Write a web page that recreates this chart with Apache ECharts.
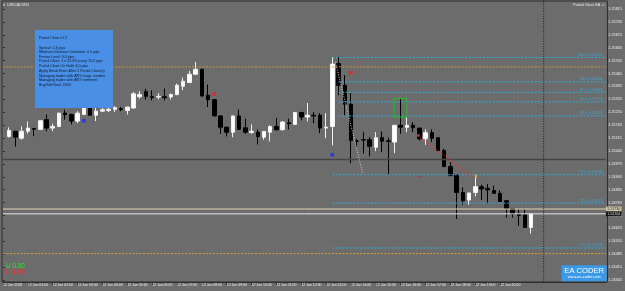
<!DOCTYPE html>
<html><head><meta charset="utf-8">
<script src="https://cdn.jsdelivr.net/npm/echarts@6/dist/echarts.min.js"></script>
<style>html,body{margin:0;padding:0;background:#6c6c6c;overflow:hidden}#c{width:625px;height:291px}</style>
</head><body><div id="c"></div>
<script>
// ---- data (USDCAD M15, 12 Jan 2018) ----
const opens = [1.25124,1.25152,1.25114,1.25152,1.25166,1.25162,1.25215,1.25169,1.25178,1.25250,1.25243,1.25207,1.25243,1.25278,1.25239,1.25261,1.25264,1.25271,1.25274,1.25265,1.25278,1.25339,1.25367,1.25339,1.25337,1.25339,1.25338,1.25351,1.25396,1.25416,1.25461,1.25488,1.25347,1.25323,1.25235,1.25174,1.25147,1.25235,1.25171,1.25145,1.25147,1.25120,1.25147,1.25178,1.25160,1.25198,1.25189,1.25254,1.25229,1.25239,1.25239,1.25169,1.25178,1.25519,1.25401,1.25298,1.25100,1.25107,1.25106,1.25065,1.25117,1.25100,1.25093,1.25184,1.25173,1.25184,1.25169,1.25111,1.25144,1.25117,1.25047,1.24960,1.24915,1.24820,1.24779,1.24820,1.24851,1.24842,1.24830,1.24815,1.24775,1.24733,1.24703,1.24699,1.24630];
const closes = [1.25156,1.25120,1.25152,1.25169,1.25163,1.25209,1.25169,1.25178,1.25250,1.25242,1.25207,1.25250,1.25278,1.25239,1.25261,1.25269,1.25271,1.25280,1.25269,1.25283,1.25355,1.25351,1.25341,1.25334,1.25341,1.25334,1.25351,1.25401,1.25423,1.25461,1.25488,1.25343,1.25323,1.25235,1.25174,1.25147,1.25235,1.25162,1.25147,1.25152,1.25124,1.25151,1.25178,1.25160,1.25202,1.25193,1.25254,1.25229,1.25239,1.25235,1.25169,1.25174,1.25516,1.25401,1.25298,1.25102,1.25098,1.25104,1.25071,1.25117,1.25098,1.25096,1.25184,1.25174,1.25184,1.25171,1.25111,1.25144,1.25114,1.25047,1.24960,1.24911,1.24820,1.24775,1.24817,1.24851,1.24839,1.24834,1.24815,1.24771,1.24733,1.24703,1.24696,1.24630,1.24703];
const lows = [1.25118,1.25069,1.25106,1.25138,1.25125,1.25160,1.25152,1.25152,1.25174,1.25215,1.25189,1.25196,1.25242,1.25237,1.25207,1.25256,1.25256,1.25256,1.25261,1.25243,1.25274,1.25329,1.25323,1.25320,1.25325,1.25320,1.25325,1.25347,1.25374,1.25415,1.25459,1.25341,1.25283,1.25233,1.25138,1.25124,1.25120,1.25160,1.25138,1.25138,1.25080,1.25106,1.25096,1.25158,1.25156,1.25162,1.25187,1.25211,1.25205,1.25196,1.25142,1.25114,1.25075,1.25347,1.25239,1.24978,1.25069,1.25031,1.25015,1.25044,1.25038,1.24917,1.25033,1.25138,1.25147,1.25147,1.25102,1.25078,1.25093,1.25046,1.24959,1.24910,1.24676,1.24753,1.24753,1.24799,1.24779,1.24757,1.24813,1.24770,1.24684,1.24684,1.24639,1.24628,1.24597];
const highs = [1.25173,1.25152,1.25178,1.25205,1.25167,1.25211,1.25243,1.25193,1.25253,1.25269,1.25247,1.25261,1.25279,1.25287,1.25278,1.25278,1.25280,1.25287,1.25283,1.25284,1.25365,1.25369,1.25382,1.25374,1.25358,1.25383,1.25356,1.25410,1.25443,1.25479,1.25528,1.25490,1.25405,1.25325,1.25239,1.25175,1.25236,1.25269,1.25220,1.25189,1.25162,1.25152,1.25184,1.25225,1.25207,1.25220,1.25256,1.25256,1.25305,1.25256,1.25250,1.25250,1.25555,1.25555,1.25456,1.25358,1.25111,1.25147,1.25120,1.25147,1.25151,1.25117,1.25185,1.25329,1.25229,1.25202,1.25170,1.25162,1.25162,1.25118,1.25057,1.24984,1.24917,1.24848,1.24819,1.24917,1.24862,1.24866,1.24857,1.24830,1.24777,1.24734,1.24730,1.24730,1.24704];
const timeLabels = ['12 Jan 2018','12 Jan 01:00','12 Jan 02:00','12 Jan 03:00','12 Jan 04:00','12 Jan 05:00','12 Jan 06:00','12 Jan 07:00','12 Jan 08:00','12 Jan 09:00','12 Jan 10:00','12 Jan 11:00','12 Jan 12:00','12 Jan 13:00','12 Jan 14:00','12 Jan 15:00','12 Jan 16:00','12 Jan 17:00','12 Jan 18:00','12 Jan 19:00','12 Jan 20:00','12 Jan 21:00'];
const priceMin = 1.24345, priceMax = 1.25815, priceStep = 0.0007;
// horizontal levels
const levelOrangeTop = 1.25501, levelDark = 1.24998, levelAsk = 1.24730, levelBid = 1.24704, levelOrangeBottom = 1.24488;
const fibValues = [1.25552, 1.25420, 1.25363, 1.25311, 1.25235];
const fibNames = ['100', '76', '61', '50', '38'];
const targetValues = [1.24916, 1.24762, 1.24519];
const targetNames = ['T1', 'T2', 'T3'];
// markers (x in bar units, y price)
const buyArrows = [[13, 1.25209], [53, 1.25024]];
const sellArrows = [[34, 1.25354], [56, 1.25470]];
const trendGray = [[53.5, 1.25526], [57.9, 1.24922]];
const trendRed = [[67.1, 1.25118], [75.6, 1.24906]];
const boxHigh = 1.25329, boxLow = 1.25229, boxFrom = 62.95, boxTo = 65.0;
const nowBar = 87;
const infoLines = ['Partial Close v1.2','','Spread: 2.4 pips','Minimum Distance Limitation: 0.0 pips','Freeze Level: 0.0 pips','Partial Close: 3 x 25.0% every 15.0 pips','Partial Close On Hold: 6.0 pips','Apply Break Even After 2 Partial Close(s)','Managing trades with ANY magic number','Managing trades with ANY comment','Buy/Sell/Total: 0/0/0'];

const NB = 98;
const cats = Array.from({length: NB}, (_, i) => String(i));
const rows = opens.map((o, i) => [i + 1, o, closes[i], lows[i], highs[i]]);
const tickVals = timeLabels.map((_, k) => k * 4);
const F = 'Liberation Sans, Arial, sans-serif';

function hLine(v, color, type, width, from, to) {
  return {type: 'line', xAxisIndex: 1, yAxisIndex: 0, data: [[from, v], [to, v]], showSymbol: false, symbol: 'none', silent: true, clip: false, z: 3,
    lineStyle: {color: color, type: type, width: width}, animation: false};
}
const series = [];
series.push({type: 'candlestick', xAxisIndex: 0, yAxisIndex: 0, data: rows, encode: {x: 0, y: [1, 2, 3, 4]}, barWidth: 4, z: 2, animation: false,
  itemStyle: {color: '#ffffff', color0: '#000000', borderColor: '#f2f2f2', borderColor0: '#000000', borderWidth: 1, borderColorDoji: '#d8d8d8'}});
series.push(hLine(levelOrangeTop, '#c4974a', [2, 1.5], 1, 0, 97));
series.push(hLine(levelDark, '#454545', 'solid', 1.5, 0, 97));
series.push(hLine(levelAsk, '#e4d6b2', 'solid', 1, 0, 97));
series.push(hLine(levelBid, '#e6e6e6', 'solid', 1, 0, 97));
series.push(hLine(levelOrangeBottom, '#e0a030', [2, 1.5], 1, 0, 97));
fibValues.forEach((v, i) => series.push(hLine(v, '#2aaee0', [2, 1.5], 1, i === 0 ? 53 : 54, 97)));
targetValues.forEach((v) => series.push(hLine(v, '#2aaee0', [2, 1.5], 1, 53, 97)));
// labels of the levels
const lvlLabels = fibValues.map((v, i) => ({v: v, t: fibNames[i] + ' = (' + v.toFixed(5) + ')'}))
  .concat(targetValues.map((v, i) => ({v: v, t: targetNames[i] + ' = (' + v.toFixed(5) + ')'})));
series.push({type: 'scatter', xAxisIndex: 1, yAxisIndex: 0, symbolSize: 0, clip: false, silent: true, z: 4, animation: false,
  data: lvlLabels.map(o => ({value: [96.6, o.v], label: {formatter: o.t}})),
  label: {show: true, position: 'left', distance: 0, offset: [0, -2.6], color: '#38b8ee', fontSize: 3.6, fontFamily: F}});
series.push({type: 'line', xAxisIndex: 1, data: trendGray, showSymbol: false, clip: false, z: 4, animation: false, lineStyle: {color: '#cfcfcf', type: [1, 1.5], width: 1}});
series.push({type: 'line', xAxisIndex: 1, data: trendRed, showSymbol: false, clip: false, z: 4, animation: false, lineStyle: {color: '#d83838', type: [1, 1.5], width: 1}});
series.push({type: 'line', xAxisIndex: 1, data: [[boxFrom, boxHigh], [boxTo, boxHigh], [boxTo, boxLow], [boxFrom, boxLow], [boxFrom, boxHigh]], showSymbol: false, clip: false, z: 4, animation: false, lineStyle: {color: '#20c020', width: 1}});
series.push({type: 'line', xAxisIndex: 1, data: [[nowBar, priceMax + 0.00044], [nowBar, priceMin - 0.00011]], showSymbol: false, clip: false, z: 4, animation: false, lineStyle: {color: '#1c1c1c', type: [1, 1.5], width: 1}});
series.push({type: 'scatter', xAxisIndex: 1, data: buyArrows, symbol: 'rect', symbolSize: 3.5, itemStyle: {color: '#1430ff'}, z: 5, animation: false});
series.push({type: 'scatter', xAxisIndex: 1, data: sellArrows, symbol: 'rect', symbolSize: 3.5, itemStyle: {color: '#ff1a1a'}, z: 5, animation: false});
series.push({type: 'scatter', xAxisIndex: 1, data: [[66.84, 1.25129]], symbol: 'rect', symbolSize: 2.5, itemStyle: {color: '#f05050'}, z: 5, animation: false});
series.push({type: 'scatter', xAxisIndex: 1, data: [[66.95, 1.24906]], symbol: 'rect', symbolSize: [3, 1], itemStyle: {color: '#e02020'}, z: 5, animation: false});
series.push({type: 'scatter', xAxisIndex: 1, data: [[76.13, 1.24906]], symbol: 'rect', symbolSize: [2, 3], itemStyle: {color: '#e8a848'}, z: 5, animation: false});
// price boxes on the axis
series.push({type: 'scatter', xAxisIndex: 1, data: [[98.27, levelAsk]], symbol: 'rect', symbolSize: [15.5, 5], clip: false, z: 6, animation: false,
  itemStyle: {color: '#eedfbd'}, label: {show: true, position: 'inside', formatter: () => levelAsk.toFixed(5), color: '#000', fontSize: 3.6, fontFamily: F}});
series.push({type: 'scatter', xAxisIndex: 1, data: [[98.27, levelBid]], symbol: 'rect', symbolSize: [15.5, 5], clip: false, z: 6, animation: false,
  itemStyle: {color: '#000000'}, label: {show: true, position: 'inside', formatter: () => levelBid.toFixed(5), color: '#fff', fontSize: 3.6, fontFamily: F}});

const graphics = [
  {type: 'rect', shape: {x: 2, y: 1, width: 605.5, height: 281}, style: {fill: null, stroke: '#2e2e2e', lineWidth: 1}, z: 1, silent: true},
  {type: 'rect', shape: {x: 35, y: 30, width: 78, height: 78}, style: {fill: '#4a8fe6'}, z: 100},
  {type: 'text', x: 2.5, y: 4.8, style: {text: '▼', fill: '#eeeeee', font: '3px ' + F, verticalAlign: 'middle'}, z: 100},
  {type: 'text', x: 7.3, y: 4.8, style: {text: 'USDCAD.M15', fill: '#eeeeee', font: '3.4px ' + F, verticalAlign: 'middle'}, z: 100},
  {type: 'text', x: 605, y: 4.8, style: {text: 'Partial Close EA ☺', fill: '#eeeeee', font: '3.7px ' + F, align: 'right', verticalAlign: 'middle'}, z: 100},
  {type: 'text', x: 6, y: 266, style: {text: 'U 0.00', fill: '#2ee82e', font: '6.4px ' + F, verticalAlign: 'middle'}, z: 100},
  {type: 'text', x: 6, y: 272.3, style: {text: 'D 1.00', fill: '#ff2a2a', font: '6.4px ' + F, verticalAlign: 'middle'}, z: 100},
  {type: 'rect', shape: {x: 561.5, y: 265.3, width: 45.3, height: 16}, style: {fill: '#3a9ae8'}, z: 100},
  {type: 'text', x: 584.2, y: 270.6, style: {text: 'EA CODER', fill: '#ffffff', font: '7.6px ' + F, align: 'center', verticalAlign: 'middle'}, z: 101},
  {type: 'text', x: 584.2, y: 277.2, style: {text: 'www.ea-coder.com', fill: '#ffffff', font: '3.9px ' + F, align: 'center', verticalAlign: 'middle'}, z: 101}
];
const lineYs = [37.7, 43, 47.7, 52.2, 56.8, 61.4, 66, 70.7, 75.5, 80.2, 85];
infoLines.forEach((t, i) => { if (t) graphics.push({type: 'text', x: 39, y: lineYs[i], style: {text: t, fill: '#10182a', font: '3.6px ' + F, verticalAlign: 'middle'}, z: 101}); });

const chart = echarts.init(document.getElementById('c'));
chart.setOption({
  backgroundColor: '#6c6c6c',
  animation: false,
  grid: {left: 2, top: 9, width: 605.6, height: 271, containLabel: false},
  xAxis: [
    {type: 'category', data: cats, boundaryGap: false, show: false},
    {type: 'value', min: 0, max: 97, interval: 4, position: 'bottom', offset: 2,
      axisLine: {show: true, lineStyle: {color: '#2e2e2e', width: 1}},
      axisTick: {show: true, length: 3, customValues: tickVals, lineStyle: {color: '#2e2e2e'}},
      splitLine: {show: false},
      axisLabel: {customValues: tickVals, showMaxLabel: false, align: 'left', margin: 1.5, fontSize: 3.5, color: '#efefef', fontFamily: F,
        formatter: v => { const k = Math.round(v / 4); return (Math.abs(v - k * 4) < 1e-6 && k < timeLabels.length) ? timeLabels[k] : ''; }}}
  ],
  yAxis: [{type: 'value', position: 'right', min: priceMin, max: priceMax, interval: priceStep, scale: true,
    axisLine: {show: false}, splitLine: {show: false},
    axisTick: {show: true, length: 2, lineStyle: {color: '#2e2e2e'}},
    axisLabel: {formatter: v => v.toFixed(5), fontSize: 3.8, color: '#efefef', margin: 2.5, fontFamily: F}}],
  series: series,
  graphic: graphics
});
</script>
</body></html>
